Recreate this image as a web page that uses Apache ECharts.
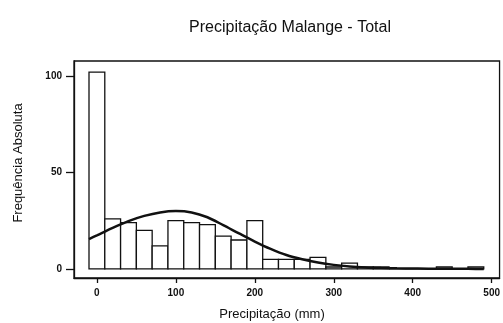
<!DOCTYPE html>
<html>
<head>
<meta charset="utf-8">
<script src="https://cdn.jsdelivr.net/npm/echarts@6/dist/echarts.min.js"></script>
<style>html,body{margin:0;padding:0;background:#fff;}#c{width:503px;height:323px;}</style>
</head>
<body>
<div id="c"></div>
<script>
var titleText = 'Precipitação Malange - Total';
var xName = 'Precipitação (mm)';
var yName = 'Frequência Absoluta';
var binWidth = 20;
var binCenters = [0, 20, 40, 60, 80, 100, 120, 140, 160, 180, 200, 220, 240, 260, 280, 300, 320, 340, 360, 380, 400, 420, 440, 460, 480];
var binCounts  = [102, 26, 24, 20, 12, 25, 24, 23, 17, 15, 25, 5, 5, 5, 6, 1, 3, 1, 1, 0, 0, 0, 1, 0, 1];
var curveX = [-10, 0, 20, 40, 60, 80, 100, 120, 140, 160, 180, 200, 220, 240, 260, 280, 300, 320, 340, 360, 380, 400, 420, 440, 460, 480, 490];
var curveY = [15.5, 17.4, 21.3, 24.8, 27.5, 29.3, 30.0, 29.3, 26.8, 22.7, 18.4, 14.2, 10.4, 7.2, 5.0, 3.3, 2.1, 1.3, 0.8, 0.5, 0.3, 0.2, 0.1, 0.1, 0.05, 0.03, 0.02];
var xTicks = [0, 100, 200, 300, 400, 500];
var yTicks = [0, 50, 100];

var barData = binCenters.map(function (c, i) { return [c, binCounts[i]]; });
var curveData = curveX.map(function (x, i) { return [x, curveY[i]]; });

var chart = echarts.init(document.getElementById('c'), null, {renderer: 'canvas'});
var FONT = 'Liberation Sans, Arial, sans-serif';
chart.setOption({
  animation: false,
  backgroundColor: '#fff',
  title: [
    {text: titleText, left: 285, top: 15, textAlign: 'center',
     textStyle: {fontFamily: FONT, fontSize: 16, fontWeight: 'normal', color: '#111'}},
    {text: xName, left: 267, top: 303, textAlign: 'center',
     textStyle: {fontFamily: FONT, fontSize: 13, fontWeight: 'normal', color: '#111'}}
  ],
  graphic: [
    {type: 'text', x: 18, y: 163, rotation: Math.PI / 2,
     style: {text: yName, fontFamily: FONT, fontSize: 13, fill: '#111', textAlign: 'center', textVerticalAlign: 'middle'}}
  ],
  grid: {left: 74, right: 3, top: 61, bottom: 45, show: true, borderColor: '#111', borderWidth: 1.3, backgroundColor: 'transparent'},
  xAxis: {
    type: 'value', min: -29, max: 510,
    axisLine: {show: true, onZero: false, lineStyle: {color: '#111', width: 1.3}},
    axisTick: {show: true, customValues: xTicks, length: 5, lineStyle: {color: '#111', width: 1.3}},
    axisLabel: {customValues: xTicks, margin: 10, fontFamily: FONT, fontSize: 10, fontWeight: 'bold', color: '#111'},
    splitLine: {show: false}
  },
  yAxis: {
    type: 'value', min: -4.7, max: 107.8,
    axisLine: {show: true, onZero: false, lineStyle: {color: '#111', width: 1.3}},
    axisTick: {show: true, customValues: yTicks, length: 8, lineStyle: {color: '#111', width: 1.3}},
    axisLabel: {customValues: yTicks, margin: 12, fontFamily: FONT, fontSize: 10, fontWeight: 'bold', color: '#111'},
    splitLine: {show: false}
  },
  series: [
    {
      type: 'custom',
      data: barData,
      encode: {x: 0, y: 1},
      renderItem: function (params, api) {
        var c = api.value(0), v = api.value(1);
        var p1 = api.coord([c - binWidth / 2, v]);
        var p0 = api.coord([c + binWidth / 2, 0]);
        return {
          type: 'rect',
          shape: {x: p1[0], y: p1[1], width: p0[0] - p1[0], height: p0[1] - p1[1]},
          style: {fill: '#fff', stroke: '#111', lineWidth: 1.3}
        };
      },
      z: 2
    },
    {
      type: 'line',
      data: curveData,
      smooth: 0.3,
      showSymbol: false,
      lineStyle: {color: '#111', width: 2.5},
      z: 3
    }
  ]
});
</script>
</body>
</html>
